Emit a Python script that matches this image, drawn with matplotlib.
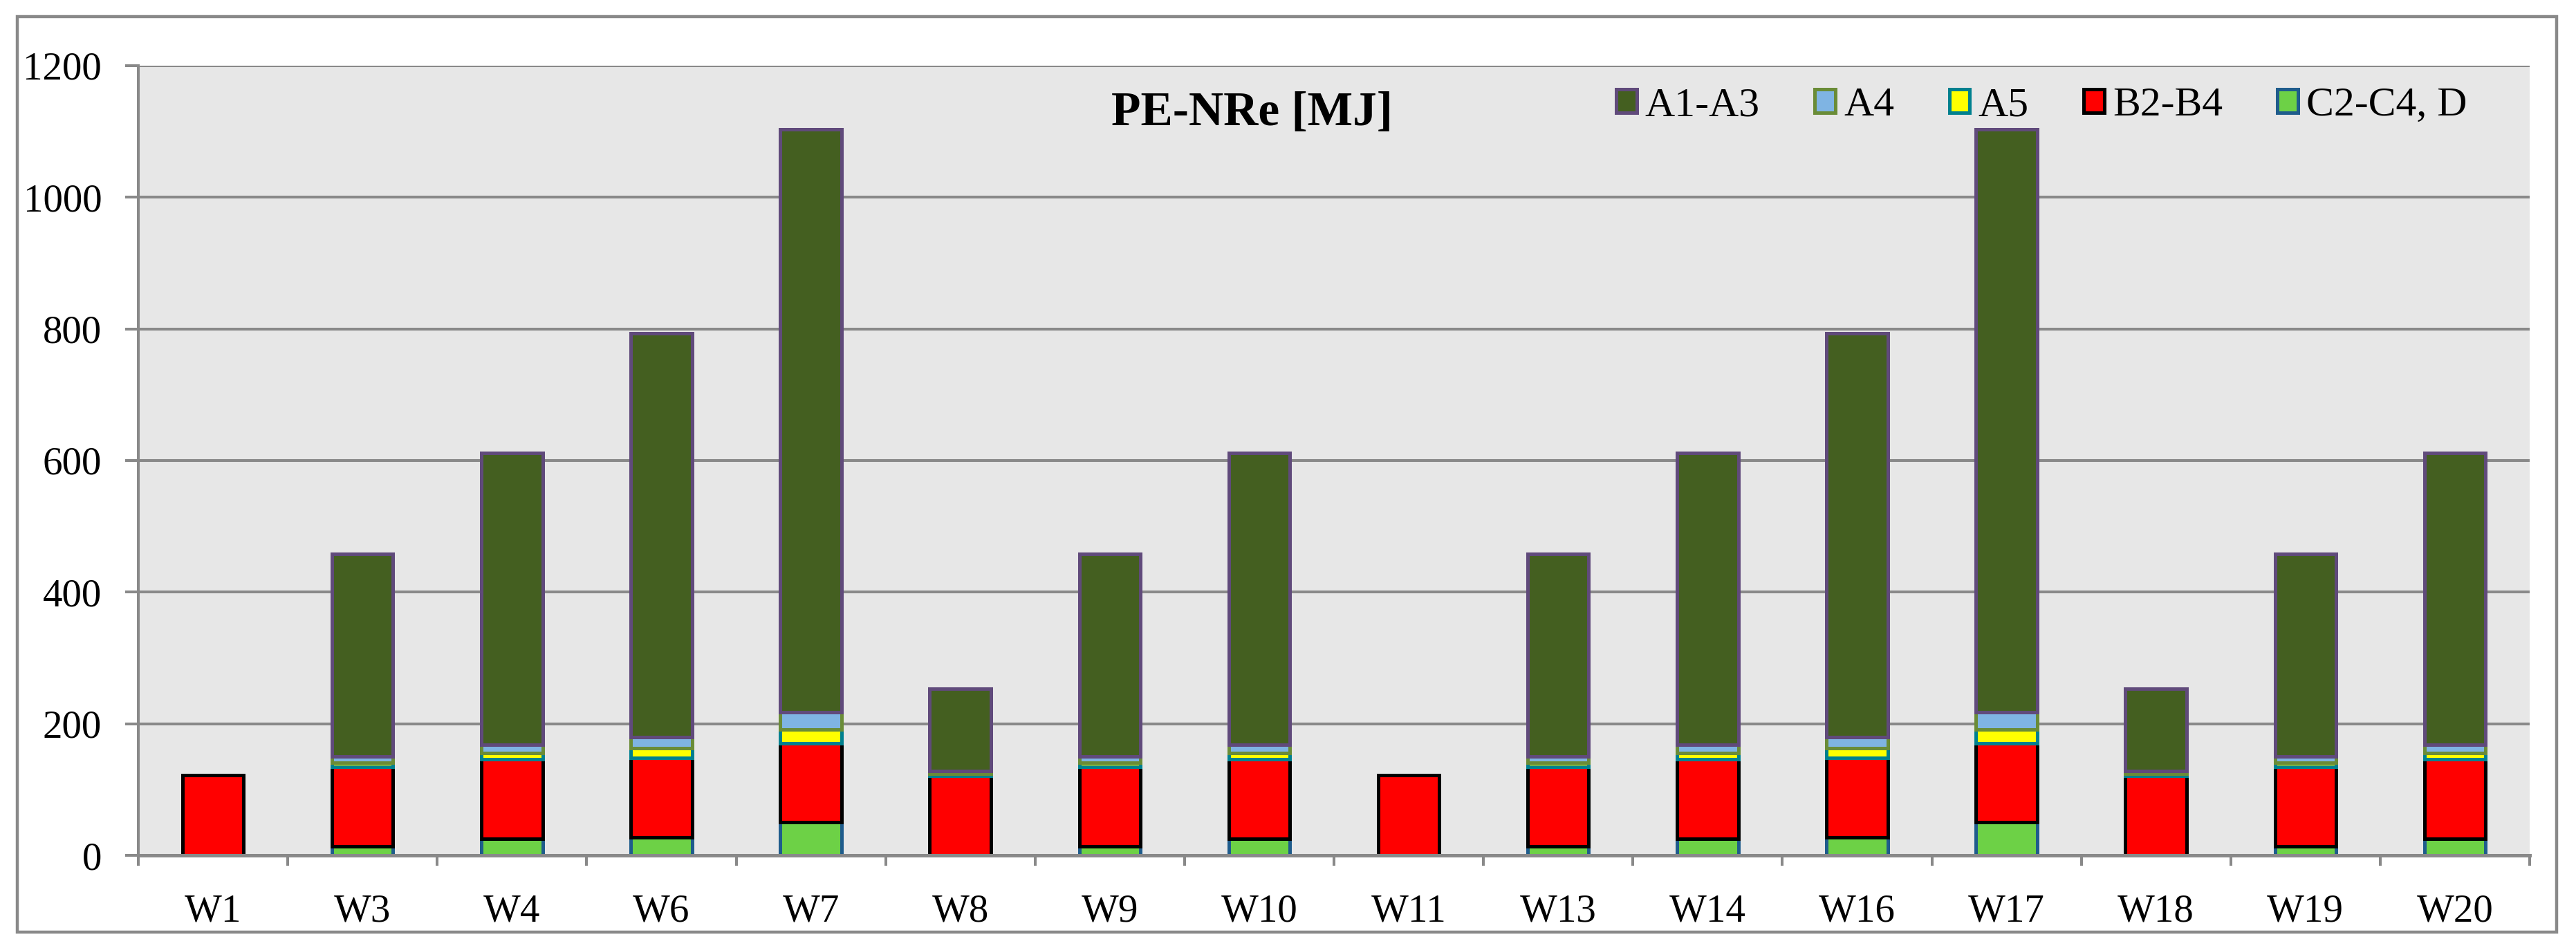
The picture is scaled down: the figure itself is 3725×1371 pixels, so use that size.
import numpy as np
import matplotlib.pyplot as plt
from matplotlib.patches import Rectangle

plt.rcParams['font.family'] = ['Liberation Serif', 'DejaVu Serif']

walls = ['W1', 'W3', 'W4', 'W6', 'W7', 'W8', 'W9', 'W10',
         'W11', 'W13', 'W14', 'W16', 'W17', 'W18', 'W19', 'W20']

# stages, bottom to top
c2c4_d = [0, 14, 25, 27, 50, 0, 14, 25, 0, 14, 25, 27, 50, 0, 14, 25]
b2b4 = [122, 121, 121, 121, 120, 121, 121, 121, 122, 121, 121, 121, 120, 121, 121, 121]
a5 = [0, 6, 10, 15, 21, 3, 6, 10, 0, 6, 10, 15, 21, 3, 6, 10]
a4 = [0, 9, 12, 17, 26, 4, 9, 12, 0, 9, 12, 17, 26, 4, 9, 12]
a1a3 = [0, 308, 444, 613, 886, 125, 308, 444, 0, 308, 444, 613, 886, 125, 308, 444]

series = [
    ('C2-C4, D', c2c4_d, '#6dd146', '#1f5c8c'),
    ('B2-B4', b2b4, '#ff0000', '#000000'),
    ('A5', a5, '#ffff00', '#00808f'),
    ('A4', a4, '#7fb4e3', '#6a8c37'),
    ('A1-A3', a1a3, '#445f20', '#604a7b'),
]

grey = '#898989'
fs = 41

fig = plt.figure(figsize=(37.25, 13.71), dpi=100)
ax = fig.add_axes([200 / 3725, 1 - 1237 / 1371, (3658 - 200) / 3725, (1237 - 95) / 1371])
ax.set_facecolor('#e7e7e7')

x = np.arange(len(walls))
bottom = np.zeros(len(walls))
handles = {}
for name, vals, fc, ec in series:
    vals = np.array(vals, dtype=float)
    edges = [ec if v > 0 else 'none' for v in vals]
    ax.bar(x, vals, 0.41, bottom=bottom, color=fc, edgecolor=edges,
           linewidth=3.6, zorder=3)
    handles[name] = Rectangle((0, 0), 1, 1, facecolor=fc, edgecolor=ec, linewidth=3.6)
    bottom += vals

ax.set_xlim(-0.5, len(walls) - 0.5)
ax.set_ylim(0, 1200)
ax.set_yticks(range(0, 1201, 200))
ax.yaxis.grid(True, color=grey, linewidth=2.9, zorder=0)
ax.set_axisbelow(True)

ax.set_xticks(x)
ax.set_xticklabels(walls, fontsize=fs)
ax.set_xticks(np.arange(-0.5, len(walls)), minor=True)
ax.tick_params(axis='x', which='major', length=0, pad=40)
ax.tick_params(axis='x', which='minor', length=11, width=2.9, color=grey)
ax.tick_params(axis='y', length=14, width=2.9, color=grey, labelsize=fs, pad=24)

for s in ['top', 'right']:
    ax.spines[s].set_visible(False)
ax.spines['left'].set_color(grey)
ax.spines['left'].set_linewidth(2.9)
ax.spines['bottom'].set_color(grey)
ax.spines['bottom'].set_linewidth(3.6)
ax.spines['bottom'].set_zorder(4)

fig.text(1810 / 3725, 1 - 181 / 1371, 'PE-NRe [MJ]', fontsize=50, fontweight='bold',
         ha='center', va='baseline')

order = ['A1-A3', 'A4', 'A5', 'B2-B4', 'C2-C4, D']
fig.legend([handles[n] for n in order], order, loc='center left',
           bbox_to_anchor=(2337 / 3725, 1 - 153 / 1371), ncol=5, frameon=False,
           fontsize=43, handlelength=0.5, handleheight=0.5,
           handletextpad=0.2, columnspacing=1.33, borderpad=0, borderaxespad=0)

fig.patches.append(Rectangle((25 / 3725, 23 / 1371), (3697 - 25) / 3725, (1347 - 23) / 1371,
                             transform=fig.transFigure, fill=False, edgecolor=grey,
                             linewidth=3.2, zorder=0))

plt.savefig('out.png', dpi=100)
